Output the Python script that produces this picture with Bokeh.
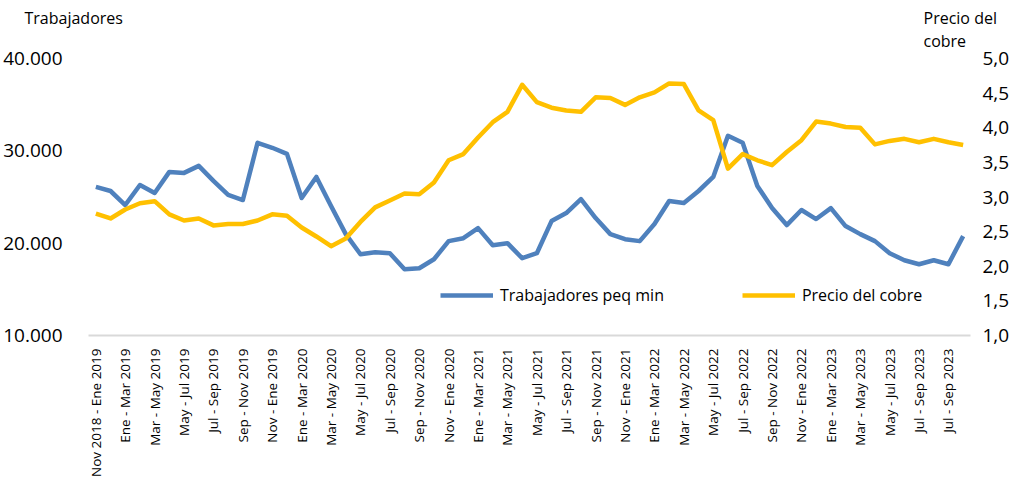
from bokeh.plotting import figure
from bokeh.models import (Range1d, LinearAxis, FixedTicker, CustomJSTickFormatter,
                          Legend, LegendItem, Label)
from bokeh.embed import file_html
from bokeh.resources import INLINE
import math

# ---------------- data ----------------
x_labels = [
    "Nov 2018 - Ene 2019", "Ene - Mar 2019", "Mar - May 2019", "May - Jul 2019",
    "Jul - Sep 2019", "Sep - Nov 2019", "Nov - Ene 2019", "Ene - Mar 2020",
    "Mar - May 2020", "May - Jul 2020", "Jul - Sep 2020", "Sep - Nov 2020",
    "Nov - Ene 2020", "Ene - Mar 2021", "Mar - May 2021", "May - Jul 2021",
    "Jul - Sep 2021", "Sep - Nov 2021", "Nov - Ene 2021", "Ene - Mar 2022",
    "Mar - May 2022", "May - Jul 2022", "Jul - Sep 2022", "Sep - Nov 2022",
    "Nov - Ene 2022", "Ene - Mar 2023", "Mar - May 2023", "May - Jul 2023",
    "Jul - Sep 2023", "Jul - Sep 2023",
]

trabajadores = [
    26090, 25650, 24130, 26300, 25440, 27720, 27610, 28370, 26740, 25220,
    24670, 30870, 30330, 29670, 24890, 27170, 24020, 20980, 18800, 19020,
    18910, 17170, 17280, 18260, 20220, 20540, 21630, 19780, 20000, 18370,
    18910, 22390, 23260, 24780, 22720, 20980, 20430, 20220, 22070, 24570,
    24350, 25650, 27170, 31630, 30870, 26200, 23800, 21960, 23590, 22610,
    23800, 21850, 20980, 20220, 18910, 18150, 17720, 18150, 17720, 20760,
]

cobre = [
    2.76, 2.69, 2.82, 2.91, 2.94, 2.75, 2.66, 2.69, 2.59, 2.61,
    2.61, 2.66, 2.75, 2.73, 2.56, 2.43, 2.29, 2.40, 2.64, 2.85,
    2.95, 3.05, 3.04, 3.21, 3.53, 3.62, 3.86, 4.08, 4.23, 4.62,
    4.37, 4.29, 4.25, 4.23, 4.44, 4.43, 4.33, 4.44, 4.51, 4.64,
    4.63, 4.25, 4.11, 3.41, 3.62, 3.53, 3.46, 3.65, 3.82, 4.09,
    4.06, 4.01, 4.00, 3.76, 3.81, 3.84, 3.79, 3.84, 3.79, 3.75,
]

left_ticks = [10000, 20000, 30000, 40000]
right_ticks = [1.0, 1.5, 2.0, 2.5, 3.0, 3.5, 4.0, 4.5, 5.0]

left_title = "Trabajadores"
right_title = ["Precio del", "cobre"]

# ---------------- geometry (pixels) ----------------
FONT = "Open Sans"
n = len(trabajadores)
xs = list(range(n))

CANVAS_W, CANVAS_H = 1020, 480   # the frame covers the whole canvas
PLOT_L, PLOT_R = 88, 970         # category area
AXIS_Y, TOP_Y = 335, 58          # pixel rows of 10.000 and 40.000
unit = (PLOT_R - PLOT_L) / n
per_px_left = 30000 / (AXIS_Y - TOP_Y)
per_px_right = 4 / (AXIS_Y - TOP_Y)

x_start = -0.5 - PLOT_L / unit
x_end = -0.5 + (CANVAS_W - PLOT_L) / unit
left_rng = Range1d(10000 - (CANVAS_H - AXIS_Y) * per_px_left, 10000 + AXIS_Y * per_px_left)
right_rng = Range1d(1 - (CANVAS_H - AXIS_Y) * per_px_right, 1 + AXIS_Y * per_px_right)

p = figure(output_backend="svg", toolbar_location=None,
           frame_width=CANVAS_W, frame_height=CANVAS_H,
           x_range=Range1d(x_start, x_end), y_range=left_rng,
           min_border=0, outline_line_color=None)
p.xgrid.visible = False
p.ygrid.visible = False
p.xaxis.visible = False
p.yaxis.visible = False

p.extra_y_ranges = {"cobre": right_rng}

ly = LinearAxis(ticker=FixedTicker(ticks=left_ticks), fixed_location=-0.5,
                formatter=CustomJSTickFormatter(code="return (tick/1000).toFixed(3);"))
ly.axis_line_color = None
ly.major_tick_line_color = None
ly.minor_tick_line_color = None
ly.major_label_standoff = 20
ly.major_label_text_font = FONT
ly.major_label_text_font_size = "19px"
ly.major_label_text_color = "#000000"
p.add_layout(ly, "left")

ry = LinearAxis(y_range_name="cobre", ticker=FixedTicker(ticks=right_ticks),
                fixed_location=n - 0.5,
                formatter=CustomJSTickFormatter(code="return tick.toFixed(1).replace('.', ',');"))
ry.axis_line_color = None
ry.major_tick_line_color = None
ry.minor_tick_line_color = None
ry.major_label_standoff = 6
ry.major_label_text_font = FONT
ry.major_label_text_font_size = "19px"
ry.major_label_text_color = "#000000"
p.add_layout(ry, "right")

tick_pos = list(range(0, n, 2))
bx = LinearAxis(ticker=FixedTicker(ticks=tick_pos), bounds=(-0.5, n - 0.5),
                fixed_location=10000,
                major_label_overrides={t: lab for t, lab in zip(tick_pos, x_labels)})
bx.axis_line_color = "#d9d9d9"
bx.axis_line_width = 2
bx.major_tick_line_color = None
bx.minor_tick_line_color = None
bx.major_label_orientation = math.pi / 2
bx.major_label_standoff = 7
bx.major_label_text_font = FONT
bx.major_label_text_font_size = "13.5px"
bx.major_label_text_color = "#000000"
p.add_layout(bx, "below")

r1 = p.line(xs, trabajadores, line_color="#4f81bd", line_width=4.5, line_join="round")
r2 = p.line(xs, cobre, y_range_name="cobre", line_color="#ffc000", line_width=4.5,
            line_join="round")

legend = Legend(items=[LegendItem(label="Trabajadores peq min", renderers=[r1]),
                       LegendItem(label="Precio del cobre", renderers=[r2])],
                orientation="horizontal", location=(440, CANVAS_H - 306))
legend.glyph_width = 53
legend.glyph_height = 20
legend.label_standoff = 7
legend.spacing = 78
legend.padding = 0
legend.margin = 0
legend.border_line_color = None
legend.background_fill_alpha = 0
legend.label_text_font = FONT
legend.label_text_font_size = "16px"
legend.label_text_color = "#000000"
p.add_layout(legend, "center")

# axis titles (pixel positions converted to data coordinates)
def px_x(px):
    return -0.5 + (px - PLOT_L) / unit

def px_y(py):
    return 10000 + (AXIS_Y - py) * per_px_left

for txt, xp, yp in [(left_title, 24, 17), (right_title[0], 923, 17), (right_title[1], 923, 40)]:
    p.add_layout(Label(x=px_x(xp), y=px_y(yp), text=txt, text_font=FONT,
                       text_font_size="16px", text_baseline="middle",
                       text_align="left", text_color="#000000"))

open("out.html", "w").write(file_html(p, INLINE))
